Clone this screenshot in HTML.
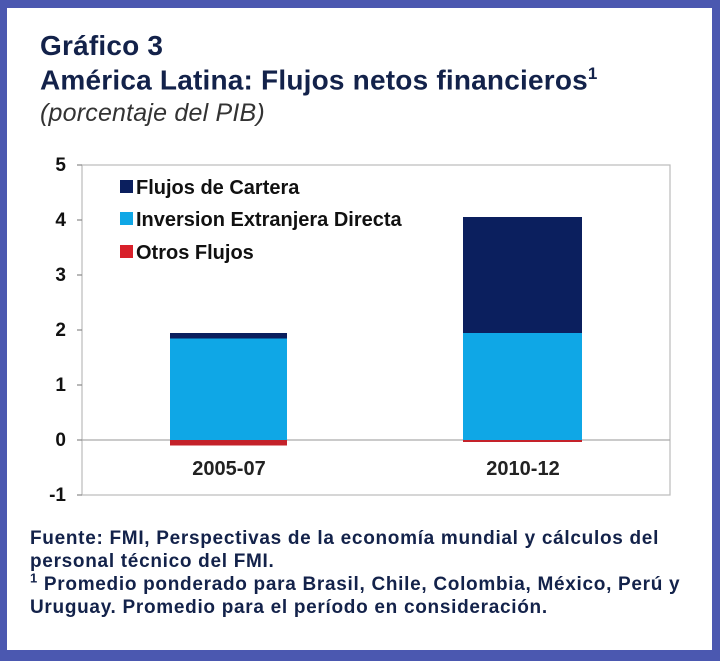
<!DOCTYPE html>
<html><head><meta charset="utf-8"><style>
body{margin:0;width:720px;height:661px;background:#4b58b0;position:relative;overflow:hidden;font-family:"Liberation Sans",sans-serif}
.in{position:absolute;left:7px;top:8px;width:705px;height:642px;background:#fff}
.t{position:absolute;left:40px;color:#13224a;font-weight:bold;font-size:28px;letter-spacing:0.2px;white-space:nowrap}
.f{position:absolute;left:30px;color:#13224a;font-weight:bold;font-size:19px;letter-spacing:0.7px;line-height:23px;white-space:nowrap}
</style></head><body>
<div class="in"></div>
<div class="t" style="top:30px">Gráfico 3</div>
<div class="t" style="top:64px">América Latina: Flujos netos financieros<sup style="font-size:17px">1</sup></div>
<div class="t" style="top:99px;font-weight:normal;font-style:italic;font-size:25px;color:#333">(porcentaje del PIB)</div>
<svg width="720" height="661" style="position:absolute;left:0;top:0" font-family="Liberation Sans" font-weight="bold">
<rect x="82" y="165" width="588" height="330" fill="none" stroke="#bbb" stroke-width="1.2"/>
<line x1="82" y1="440" x2="670" y2="440" stroke="#aaa" stroke-width="1.2"/>
<g stroke="#888" stroke-width="1.2">
<line x1="77" y1="165" x2="82" y2="165"/><line x1="77" y1="220" x2="82" y2="220"/><line x1="77" y1="275" x2="82" y2="275"/><line x1="77" y1="330" x2="82" y2="330"/><line x1="77" y1="385" x2="82" y2="385"/><line x1="77" y1="440" x2="82" y2="440"/><line x1="77" y1="495" x2="82" y2="495"/></g>
<g font-size="19" fill="#111" text-anchor="end">
<text x="66" y="171">5</text><text x="66" y="226">4</text><text x="66" y="281">3</text><text x="66" y="336">2</text><text x="66" y="391">1</text><text x="66" y="446">0</text><text x="66" y="501">-1</text></g>
<rect x="170" y="338" width="117" height="102" fill="#0fa7e6"/>
<rect x="170" y="333" width="117" height="5.5" fill="#0b1f5e"/>
<rect x="170" y="440" width="117" height="5.5" fill="#c4222a"/>
<rect x="463" y="333" width="119" height="107" fill="#0fa7e6"/>
<rect x="463" y="217" width="119" height="116" fill="#0b1f5e"/>
<rect x="463" y="440" width="119" height="2" fill="#c4222a"/>
<g font-size="20" fill="#222" text-anchor="middle"><text x="229" y="475">2005-07</text><text x="523" y="475">2010-12</text></g>
<rect x="120" y="180" width="13" height="13" fill="#0b1f5e"/>
<rect x="120" y="212" width="13" height="13" fill="#0fa7e6"/>
<rect x="120" y="245" width="13" height="13" fill="#d8202a"/>
<g font-size="20" fill="#111"><text x="136" y="194">Flujos de Cartera</text><text x="136" y="226">Inversion Extranjera Directa</text><text x="136" y="259">Otros Flujos</text></g>
</svg>
<div class="f" style="top:527px">Fuente: FMI, Perspectivas de la economía mundial y cálculos del<br>personal técnico del FMI.<br><sup style="font-size:13px;line-height:0">1</sup> Promedio ponderado para Brasil, Chile, Colombia, México, Perú y<br>Uruguay. Promedio para el período en consideración.</div>
</body></html>
